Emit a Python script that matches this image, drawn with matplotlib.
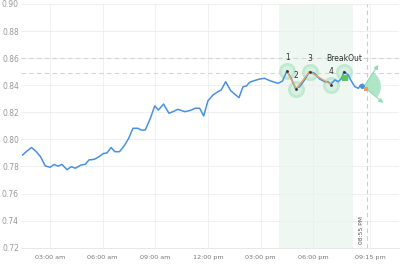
import numpy as np
import matplotlib
matplotlib.use("Agg")
import matplotlib.pyplot as plt
from matplotlib.patches import Wedge
from matplotlib.transforms import IdentityTransform

# price series (hours since midnight, value)
hours = [1.44, 1.69, 1.95, 2.22, 2.46, 2.73, 3.00, 3.24, 3.46, 3.68, 3.97, 4.21, 4.45,
         4.74, 5.02, 5.22, 5.54, 5.79, 6.05, 6.25, 6.48, 6.70, 6.96, 7.22, 7.47, 7.73,
         8.01, 8.20, 8.43, 8.72, 8.97, 9.18, 9.47, 9.78, 10.01, 10.29, 10.68, 10.96,
         11.28, 11.53, 11.76, 12.00, 12.29, 12.57, 12.76, 13.01, 13.30, 13.43, 13.77,
         14.00, 14.19, 14.38, 14.57, 14.95, 15.23, 15.52, 15.80, 15.99, 16.25, 16.50,
         16.75, 16.99, 17.23, 17.51, 17.79, 18.08, 18.37, 18.65, 18.84, 19.01, 19.24,
         19.43, 19.62, 19.75, 20.00, 20.09, 20.25, 20.38, 20.57, 20.70, 20.82]
values = [0.7885, 0.7914, 0.7940, 0.7909, 0.7872, 0.7804, 0.7794, 0.7815, 0.7802, 0.7815,
          0.7776, 0.7798, 0.7787, 0.7809, 0.7817, 0.7848, 0.7853, 0.7872, 0.7896, 0.7900,
          0.7940, 0.7909, 0.7909, 0.7951, 0.8004, 0.8082, 0.8082, 0.8069, 0.8069, 0.8156,
          0.8247, 0.8217, 0.8261, 0.8193, 0.8205, 0.8222, 0.8205, 0.8212, 0.8230, 0.8230,
          0.8173, 0.8284, 0.8328, 0.8352, 0.8365, 0.8426, 0.8360, 0.8345, 0.8308, 0.8389,
          0.8394, 0.8422, 0.8431, 0.8446, 0.8451, 0.8434, 0.8422, 0.8414, 0.8431, 0.8505,
          0.8451, 0.8376, 0.8389, 0.8439, 0.8501, 0.8488, 0.8446, 0.8426, 0.8426, 0.8409,
          0.8439, 0.8426, 0.8451, 0.8501, 0.8476, 0.8451, 0.8414, 0.8389, 0.8377, 0.8402,
          0.8407]

# pattern points
pat_x = [16.52, 17.03, 17.79, 19.03, 19.75]
pat_y = [0.8502, 0.8372, 0.8500, 0.8405, 0.8500]
pat_labels = ["1", "2", "3", "4", "BreakOut"]

breakout_sq = (19.81, 0.8451)
last_dot = (20.76, 0.8397)
last_sq = (20.99, 0.8370)

# projection fan
fan_apex = (20.89, 0.8390)
fan_up = (21.71, 0.8550)
fan_down = (21.99, 0.8269)

hlines = [0.86, 0.849]
shade_x = (16.05, 20.25)
event_x = 21.05
event_label = "08:55 PM"

xticks = [3, 6, 9, 12, 15, 18, 21.25]
xticklabels = ["03:00 am", "06:00 am", "09:00 am", "12:00 pm", "03:00 pm", "06:00 pm", "09:15 pm"]
yticks = np.arange(0.72, 0.9001, 0.02)

blue = "#4a90e2"
orange = "#e8a068"
green = "#a6e4c2"

fig = plt.figure(figsize=(4, 2.69), dpi=100)
ax = fig.add_axes([21 / 400, 1 - 247.7 / 269, 378 / 400, 243.7 / 269])
ax.set_xlim(1.348, 22.89)
ax.set_ylim(0.72, 0.90)

ax.set_xticks(xticks)
ax.set_xticklabels(xticklabels, fontsize=4.6, color="#777777")
ax.set_yticks(yticks)
ax.set_yticklabels(["%.2f" % v for v in yticks], fontsize=5.5, color="#999999")
ax.tick_params(length=0, pad=1.5)
ax.tick_params(axis="x", pad=5)
ax.grid(True, color="#eeeeee", lw=0.6)
ax.set_axisbelow(True)
for s in ax.spines.values():
    s.set_visible(False)
ax.spines["bottom"].set_visible(True)
ax.spines["bottom"].set_color("#e4e4e4")
ax.spines["bottom"].set_linewidth(0.6)

ax.axvspan(shade_x[0], shade_x[1], color="#eef7f2", zorder=0.5, lw=0)
for h in hlines:
    ax.axhline(h, color="#d4d4d4", lw=0.8, ls=(0, (4, 3)), zorder=1)
ax.axvline(event_x, color="#cccccc", lw=0.8, ls=(0, (4, 3)), zorder=1)
ax.annotate(event_label, xy=(event_x, 0.72), xytext=(-4, 3), textcoords="offset points",
            rotation=90, fontsize=4.3, color="#555555", ha="center", va="bottom")

ax.plot(hours, values, color=blue, lw=1.1, zorder=3)
ax.plot(pat_x[:4], pat_y[:4], color=orange, lw=1.0, zorder=4)
ax.scatter(pat_x, pat_y, s=105, facecolor="#d6f1e0", edgecolor="#c0e9cf", lw=2.0, zorder=2.5)
ax.scatter(pat_x, pat_y, s=4, color="#333333", zorder=5, lw=0)
for x, y, t in zip(pat_x, pat_y, pat_labels):
    ax.annotate(t, xy=(x, y), xytext=(0, 6.5), textcoords="offset points",
                ha="center", va="bottom", fontsize=5.5, color="#333333")

ax.scatter([breakout_sq[0]], [breakout_sq[1]], marker="s", s=13, color="#58c858", zorder=5, lw=0)
ax.scatter([last_dot[0]], [last_dot[1]], s=13, color=blue, zorder=5, lw=0)
ax.scatter([last_sq[0]], [last_sq[1]], marker="s", s=7, color=orange, zorder=5, lw=0)

# fan wedge drawn in pixel space
ap = ax.transData.transform(fan_apex)
up = ax.transData.transform(fan_up)
dn = ax.transData.transform(fan_down)
a1 = np.degrees(np.arctan2(dn[1] - ap[1], dn[0] - ap[0]))
a2 = np.degrees(np.arctan2(up[1] - ap[1], up[0] - ap[0]))
ax.add_patch(Wedge(ap, 17, a1, a2, transform=IdentityTransform(),
                   color=green, alpha=0.9, lw=0, zorder=2))
for end in (fan_up, fan_down):
    ax.annotate("", xy=end, xytext=fan_apex,
                arrowprops=dict(arrowstyle="-|>", color="#8fdcb4", lw=0.8,
                                mutation_scale=6, shrinkA=0, shrinkB=0), zorder=2)

fig.savefig("out.png", dpi=100)
plt.close()
